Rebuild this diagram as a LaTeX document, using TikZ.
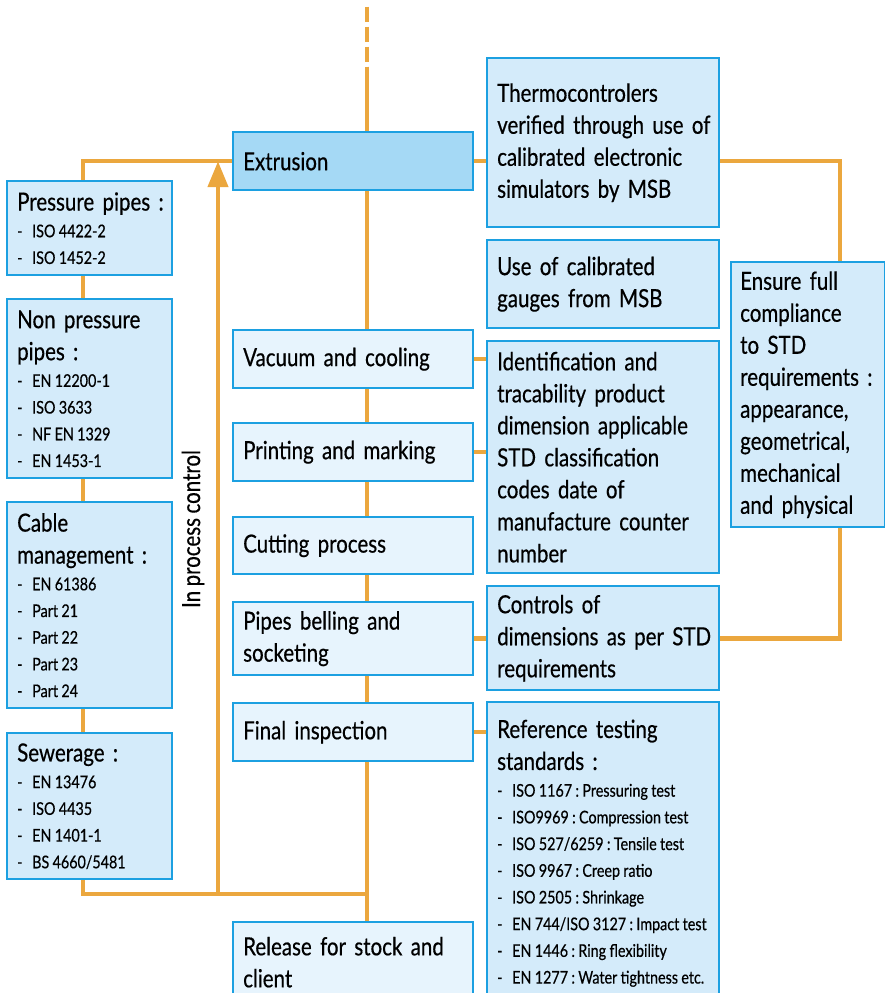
\documentclass[tikz,border=0pt]{standalone}
\usepackage{fontspec}
\setmainfont{Lato}[FakeStretch=0.82, FakeBold=0.5]
\usetikzlibrary{arrows.meta,backgrounds}
\setlength\parindent{0pt}
\setlength\parskip{0pt}
\frenchspacing
\definecolor{frameblue}{RGB}{28,160,225}
\definecolor{boxfill}{RGB}{212,235,250}
\definecolor{stepfill}{RGB}{231,244,253}
\definecolor{headfill}{RGB}{165,217,245}
\definecolor{flow}{RGB}{235,167,62}
\newcommand\hd{\fontsize{25}{32}\selectfont\spaceskip=0.18em\relax}
\newcommand\txtline[1]{\mbox{#1}\par}
\newcommand\stdline[1]{{\fontsize{17.5}{26.7}\selectfont\spaceskip=0.19em\relax
  \mbox{\makebox[15pt][l]{-}#1}\par}}
\tikzset{
  panel/.style={draw=frameblue, line width=2.4pt, fill=boxfill, anchor=north west,
    inner xsep=10pt, inner ysep=0pt, align=left, font=\hd},
  stage/.style={panel, fill=stepfill, minimum width=240pt, text width=220pt},
  rightpanel/.style={panel, minimum width=232pt, text width=212pt},
  leftpanel/.style={panel, minimum width=165pt, text width=145pt},
  flowline/.style={draw=flow, line width=4.5pt},
}
\begin{document}
\begin{tikzpicture}[x=1pt,y=-1pt]
\useasboundingbox (0,0) rectangle (885,993);
\clip (0,0) rectangle (885,993);

% process steps
\node[stage, fill=headfill, minimum height=58pt] (extrusion) at (232,131) {\txtline{Extrusion}};
\node[stage, minimum height=58pt] (vacuum) at (232,329) {\txtline{Vacuum and cooling}};
\node[stage, minimum height=58pt] (printing) at (232,422) {\txtline{Printing and marking}};
\node[stage, minimum height=57pt] (cutting) at (232,516) {\txtline{Cutting process}};
\node[stage, minimum height=73pt] (belling) at (232,601) {\txtline{Pipes belling and}\txtline{socketing}};
\node[stage, minimum height=58pt] (final) at (232,702) {\txtline{Final inspection}};
\node[stage, minimum height=80pt] (release) at (232,921) {\txtline{Release for stock and}\txtline{client}};

% controls on the right
\node[rightpanel, minimum height=169pt] (thermo) at (486,57)
  {\txtline{Thermocontrolers}\txtline{verified through use of}\txtline{calibrated electronic}\txtline{simulators by MSB}};
\node[rightpanel, minimum height=88pt] (gauges) at (486,239)
  {\txtline{Use of calibrated}\txtline{gauges from MSB}};
\node[rightpanel, minimum height=232pt] (ident) at (486,340)
  {\txtline{Identification and}\txtline{tracability product}\txtline{dimension applicable}\txtline{STD classification}\txtline{codes date of}\txtline{manufacture counter}\txtline{number}};
\node[rightpanel, minimum height=104pt] (controls) at (486,585)
  {\txtline{Controls of}\txtline{dimensions as per STD}\txtline{requirements}};
\node[rightpanel, minimum height=302pt] (reference) at (486,701)
  {\txtline{Reference testing}\txtline{standards :}%
   \stdline{ISO 1167 : Pressuring test}\stdline{ISO9969 : Compression test}%
   \stdline{ISO 527/6259 : Tensile test}\stdline{ISO 9967 : Creep ratio}%
   \stdline{ISO 2505 : Shrinkage}\stdline{EN 744/ISO 3127 : Impact test}%
   \stdline{EN 1446 : Ring flexibility}\stdline{EN 1277 : Water tightness etc.}};
\node[panel, minimum width=154pt, text width=136pt, inner xsep=9pt, minimum height=265pt] (ensure) at (730,261)
  {\txtline{Ensure full}\txtline{compliance}\txtline{to STD}\txtline{requirements :}\txtline{appearance,}\txtline{geometrical,}\txtline{mechanical}\txtline{and physical}};

% product standards on the left
\node[leftpanel, minimum height=94pt] (pressure) at (6,180)
  {\txtline{Pressure pipes :}\stdline{ISO 4422-2}\stdline{ISO 1452-2}};
\node[leftpanel, minimum height=179pt] (nonpress) at (6,298)
  {\txtline{Non pressure}\txtline{pipes :}\stdline{EN 12200-1}\stdline{ISO 3633}\stdline{NF EN 1329}\stdline{EN 1453-1}};
\node[leftpanel, minimum height=206pt] (cable) at (6,501)
  {\txtline{Cable}\txtline{management :}\stdline{EN 61386}\stdline{Part 21}\stdline{Part 22}\stdline{Part 23}\stdline{Part 24}};
\node[leftpanel, minimum height=146pt] (sewer) at (6,732)
  {\txtline{Sewerage :}\stdline{EN 13476}\stdline{ISO 4435}\stdline{EN 1401-1}\stdline{BS 4660/5481}};

\node[rotate=90, font=\hd] (ipc) at (193,529) {In process control};

% guide coordinates of the connector runs
\coordinate (lx) at (83,0);
\coordinate (sx) at (367,0);
\coordinate (ax) at (218,0);
\coordinate (rx) at (840,0);
\coordinate (lb) at (83,894);
\coordinate (sb) at (367,894);
\coordinate (ab) at (218,894);
\coordinate (dtop) at (367,6.7);
\coordinate (dend) at (367,66.7);

\begin{pgfonlayer}{background}
  \draw[flowline, dash pattern=on 15pt off 5pt] (dtop) -- (dend);
  \draw[flowline] (dend) -- (release.north -| sx);
  \draw[flowline] (extrusion.west) -- (extrusion.west -| lx) -- (lb) -- (sb);
  \draw[flowline] (extrusion.east) -- (extrusion.east -| thermo.west);
  \draw[flowline] (vacuum.east) -- (vacuum.east -| ident.west);
  \draw[flowline] (printing.east) -- (printing.east -| ident.west);
  \draw[flowline] (belling.east) -- (belling.east -| controls.west);
  \draw[flowline] (final.east) -- (final.east -| reference.west);
  \draw[flowline] (extrusion.east -| thermo.east) -- (extrusion.east -| rx)
     -- (belling.east -| rx) -- (belling.east -| controls.east);
  \draw[flowline, -{Triangle[length=26pt,width=20pt]}] (ab) -- (extrusion.west -| ax);
\end{pgfonlayer}
\end{tikzpicture}
\end{document}
